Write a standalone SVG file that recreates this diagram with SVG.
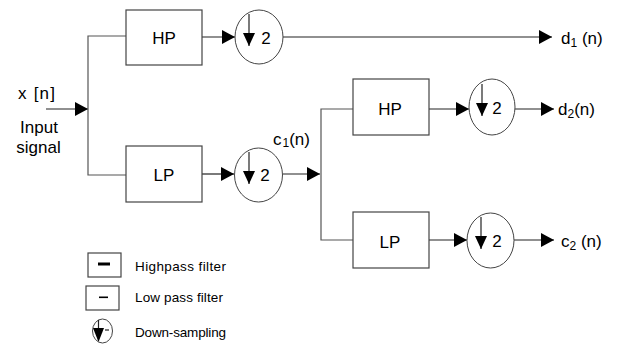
<svg xmlns="http://www.w3.org/2000/svg" width="617" height="344" viewBox="0 0 617 344">
<defs>
<style>
.box{fill:#fff;stroke:#444;stroke-width:1.2}
.ds{fill:#fff;stroke:#444;stroke-width:1}
.ln{fill:none;stroke:#222;stroke-width:1.2}
.gl{fill:none;stroke:#555;stroke-width:1.2}
.t{font-family:"Liberation Sans",Arial,sans-serif;font-size:17px;fill:#000}
.lg{font-family:"Liberation Sans",Arial,sans-serif;font-size:13.5px;fill:#000}
.sub{font-size:12px}
</style>
<marker id="ah" viewBox="0 0 13 14" refX="13" refY="7" markerWidth="13" markerHeight="14" markerUnits="userSpaceOnUse" orient="auto">
<path d="M0,0 L13,7 L0,14 Z" fill="#000"/>
</marker>
<marker id="dh" viewBox="0 0 12 13" refX="6" refY="13" markerWidth="12" markerHeight="13" markerUnits="userSpaceOnUse" orient="0">
<path d="M0,0 L12,0 L6,13 Z" fill="#000"/>
</marker>
</defs>
<rect width="617" height="344" fill="#fff"/>
<g id="connectors">
<line class="ln" x1="46" y1="109" x2="88" y2="109" marker-end="url(#ah)"/>
<polyline class="gl" points="126,36 88,36 88,175 126,175"/>
<line class="ln" x1="202" y1="37" x2="235" y2="37" marker-end="url(#ah)"/>
<line class="ln" x1="283" y1="37" x2="552" y2="37" marker-end="url(#ah)"/>
<line class="ln" x1="202" y1="174" x2="234" y2="174" marker-end="url(#ah)"/>
<line class="ln" x1="283" y1="174" x2="320" y2="174" marker-end="url(#ah)"/>
<polyline class="gl" points="353,109 321,109 321,240 353,240"/>
<line class="ln" x1="429" y1="109" x2="469" y2="109" marker-end="url(#ah)"/>
<line class="ln" x1="515" y1="109" x2="554" y2="109" marker-end="url(#ah)"/>
<line class="ln" x1="429" y1="240" x2="467" y2="240" marker-end="url(#ah)"/>
<line class="ln" x1="514" y1="240" x2="554" y2="240" marker-end="url(#ah)"/>
</g>
<g id="input">
<text class="t" x="18" y="99" textLength="37" lengthAdjust="spacing">x [n]</text>
<text class="t" x="39" y="133" text-anchor="middle">Input</text>
<text class="t" x="38.5" y="153" text-anchor="middle">signal</text>
</g>
<g id="hp1">
<rect class="box" x="126" y="10" width="76" height="55"/>
<text class="t" x="164" y="44" text-anchor="middle">HP</text>
</g>
<g id="lp1">
<rect class="box" x="126" y="146" width="76" height="56"/>
<text class="t" x="164" y="181" text-anchor="middle">LP</text>
</g>
<g id="ds1">
<ellipse class="ds" cx="259" cy="37" rx="24" ry="27"/>
<line class="ln" x1="249" y1="14" x2="249" y2="46" marker-end="url(#dh)"/>
<text class="t" x="266" y="44" text-anchor="middle">2</text>
</g>
<g id="ds2">
<ellipse class="ds" cx="258.5" cy="175" rx="24" ry="27"/>
<line class="ln" x1="249" y1="152" x2="249" y2="184" marker-end="url(#dh)"/>
<text class="t" x="265" y="181" text-anchor="middle">2</text>
</g>
<g id="hp2">
<rect class="box" x="353" y="79" width="76" height="56"/>
<text class="t" x="390" y="115" text-anchor="middle">HP</text>
</g>
<g id="lp2">
<rect class="box" x="353" y="212" width="76" height="56"/>
<text class="t" x="390" y="248" text-anchor="middle">LP</text>
</g>
<g id="ds3">
<ellipse class="ds" cx="492" cy="107" rx="23" ry="28"/>
<line class="ln" x1="482" y1="84" x2="482" y2="116" marker-end="url(#dh)"/>
<text class="t" x="497" y="114" text-anchor="middle">2</text>
</g>
<g id="ds4">
<ellipse class="ds" cx="490.5" cy="240.5" rx="23.5" ry="27.5"/>
<line class="ln" x1="481" y1="217" x2="481" y2="249" marker-end="url(#dh)"/>
<text class="t" x="497" y="247" text-anchor="middle">2</text>
</g>
<g id="labels">
<text class="t" x="273" y="145">c<tspan class="sub" dy="2" dx="1">1</tspan><tspan dy="-2">(n)</tspan></text>
<text class="t" x="561" y="44">d<tspan class="sub" dy="3">1</tspan><tspan dy="-3"> (n)</tspan></text>
<text class="t" x="558" y="115">d<tspan class="sub" dy="3">2</tspan><tspan dy="-3">(n)</tspan></text>
<text class="t" x="561" y="247">c<tspan class="sub" dy="3">2</tspan><tspan dy="-3"> (n)</tspan></text>
</g>
<g id="legend">
<rect class="box" x="88" y="253" width="33" height="24"/>
<rect x="98" y="262.5" width="12" height="3" fill="#000"/>
<text class="lg" x="135" y="271" textLength="91" lengthAdjust="spacing">Highpass filter</text>
<rect class="box" x="86" y="286" width="33" height="24"/>
<rect x="99" y="296.5" width="9" height="1.6" fill="#000"/>
<text class="lg" x="135" y="302" textLength="88" lengthAdjust="spacing">Low pass filter</text>
<ellipse class="ds" cx="102.5" cy="331" rx="10" ry="12"/>
<line class="ln" x1="98.5" y1="320" x2="98.5" y2="329"/>
<path d="M93,328 L104,328 L98.5,342 Z" fill="#000"/>
<line class="ln" x1="105" y1="330" x2="109" y2="330"/>
<text class="lg" x="135" y="337" textLength="91" lengthAdjust="spacing">Down-sampling</text>
</g>
</svg>
